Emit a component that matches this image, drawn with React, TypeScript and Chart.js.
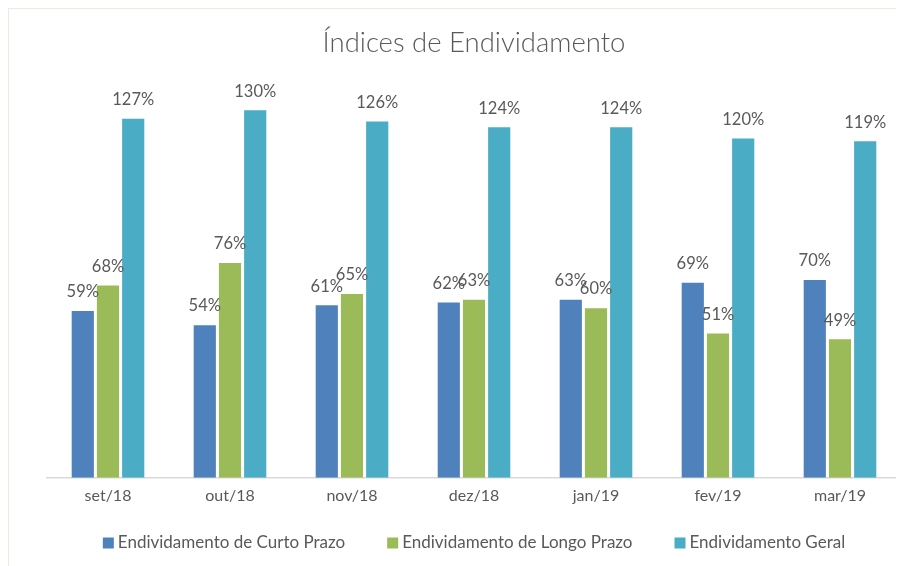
import React, { useEffect, useRef } from "react";
import { Chart, registerables } from "chart.js";

Chart.register(...registerables);

const categories = ["set/18", "out/18", "nov/18", "dez/18", "jan/19", "fev/19", "mar/19"];
const curtoPrazo = [59, 54, 61, 62, 63, 69, 70];
const longoPrazo = [68, 76, 65, 63, 60, 51, 49];
const geral = [127, 130, 126, 124, 124, 120, 119];
const seriesNames = [
  "Endividamento de Curto Prazo",
  "Endividamento de Longo Prazo",
  "Endividamento Geral",
];
const colors = ["#4F81BD", "#9BBB59", "#4BACC6"];

const FONT = "Lato, 'Open Sans', sans-serif";
const TEXT = "#595959";

const labelPlugin = {
  id: "valueLabels",
  afterDatasetsDraw(chart: any) {
    const ctx = chart.ctx;
    ctx.save();
    ctx.font = `16.5px ${FONT}`;
    ctx.fillStyle = TEXT;
    ctx.textAlign = "center";
    ctx.textBaseline = "middle";
    chart.data.datasets.forEach((ds: any, i: number) => {
      const meta = chart.getDatasetMeta(i);
      meta.data.forEach((el: any, j: number) => {
        ctx.fillText(`${ds.data[j]}%`, el.x, el.y - 19);
      });
    });
    ctx.restore();
  },
};

const legendPlugin = {
  id: "customLegend",
  afterDraw(chart: any) {
    const ctx = chart.ctx;
    const box = 11;
    const gap = 4;
    const spacing = 42;
    ctx.save();
    ctx.font = `17px ${FONT}`;
    ctx.textBaseline = "middle";
    ctx.textAlign = "left";
    const items = chart.data.datasets.map((ds: any) => ({
      label: ds.label,
      color: ds.backgroundColor,
      w: box + gap + ctx.measureText(ds.label).width,
    }));
    const total =
      items.reduce((s: number, it: any) => s + it.w, 0) + spacing * (items.length - 1);
    const center = (chart.chartArea.left + chart.chartArea.right) / 2;
    let x = center - total / 2;
    const y = chart.height - 23;
    items.forEach((it: any) => {
      ctx.fillStyle = it.color;
      ctx.fillRect(x, y - box / 2, box, box);
      ctx.fillStyle = TEXT;
      ctx.fillText(it.label, x + box + gap, y);
      x += it.w + spacing;
    });
    ctx.restore();
  },
};

export default function App() {
  const ref = useRef<HTMLCanvasElement>(null);
  useEffect(() => {
    if (!ref.current) return;
    const chart = new Chart(ref.current, {
      type: "bar",
      data: {
        labels: categories,
        datasets: [curtoPrazo, longoPrazo, geral].map((d, i) => ({
          label: seriesNames[i],
          data: d,
          backgroundColor: colors[i],
          barPercentage: 0.88,
          categoryPercentage: 0.62,
        })),
      },
      options: {
        animation: false,
        responsive: false,
        maintainAspectRatio: false,
        layout: { padding: { left: 38, right: 3, top: 0, bottom: 53 } },
        scales: {
          x: {
            grid: { display: false, drawTicks: false },
            border: { color: "#D9D9D9", width: 1.5 },
            ticks: { color: TEXT, font: { family: FONT, size: 16 }, padding: 8 },
          },
          y: { display: false, min: 0, max: 140 },
        },
        plugins: {
          title: {
            display: true,
            text: "Índices de Endividamento",
            color: TEXT,
            font: { family: FONT, size: 27.5, weight: "300" as any },
            padding: { top: 18, bottom: 22 },
          },
          legend: { display: false },
          tooltip: { enabled: false },
        },
      },
      plugins: [labelPlugin, legendPlugin],
    });
    return () => chart.destroy();
  }, []);
  return (
    <div
      style={{
        width: 895,
        height: 557,
        borderTop: "1px solid #ECEADC",
        borderLeft: "1px solid #ECEADC",
        background: "#fff",
      }}
    >
      <canvas ref={ref} width={895} height={557} style={{ display: "block" }} />
    </div>
  );
}
